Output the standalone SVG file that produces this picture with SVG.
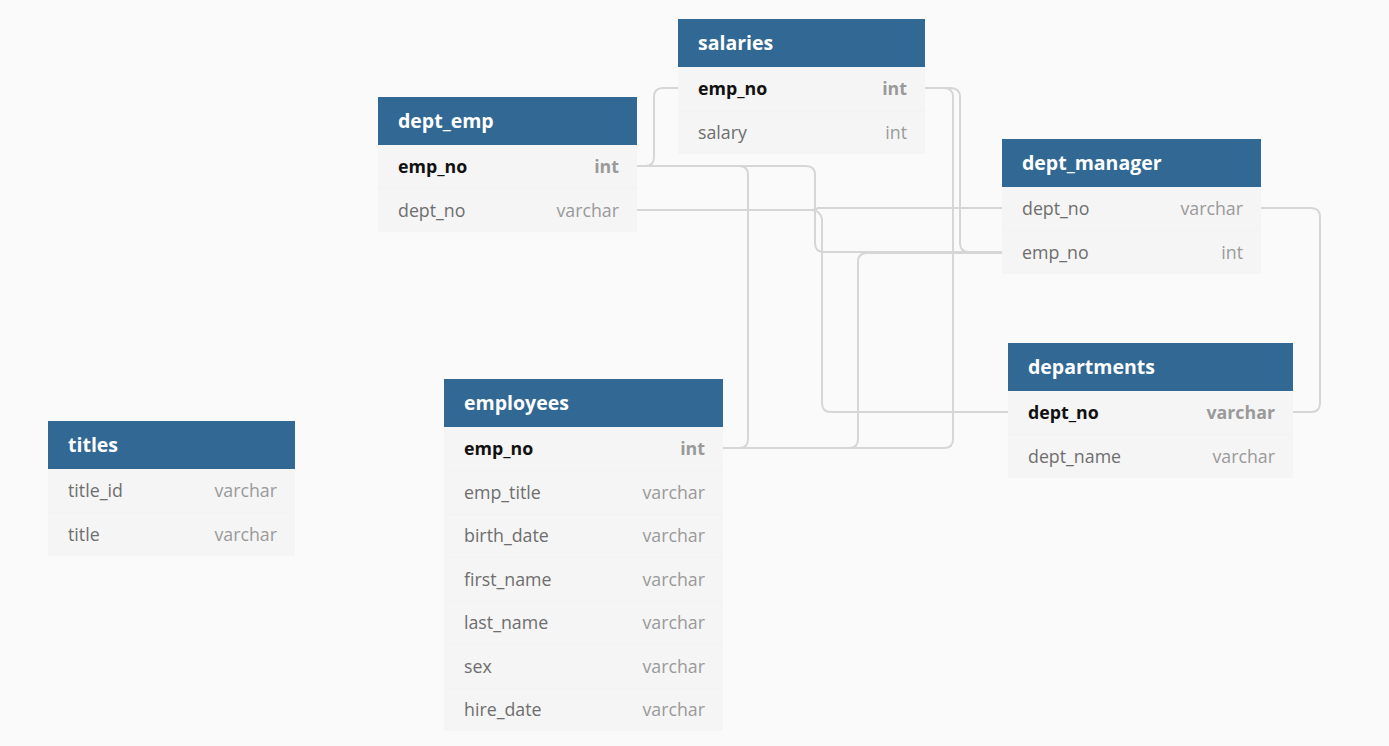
<svg xmlns="http://www.w3.org/2000/svg" width="1389" height="746" viewBox="0 0 1389 746">
<style>
.bg{fill:#fafafa}
.hd{fill:#316894}
.row{fill:#f5f5f5}
.sep{stroke:#f2f2f2;stroke-width:1}
.ttl{font-family:"Open Sans","Liberation Sans",sans-serif;font-size:19.5px;font-weight:bold;fill:#ffffff}
.fn{font-family:"Open Sans","Liberation Sans",sans-serif;font-size:17.8px;fill:#6e6e6e}
.fk{font-family:"Open Sans","Liberation Sans",sans-serif;font-size:17.8px;font-weight:bold;fill:#111111}
.ty{font-family:"Open Sans","Liberation Sans",sans-serif;font-size:17.8px;fill:#9a9a9a;text-anchor:end}
.tk{font-family:"Open Sans","Liberation Sans",sans-serif;font-size:17.8px;font-weight:bold;fill:#9a9a9a;text-anchor:end}
.c{fill:none;stroke:#d6d6d6;stroke-width:2}
</style>
<rect class="bg" x="0" y="0" width="1389" height="746"/>
<g id="connectors">
<path class="c" d="M637,166 H645 Q654,166 654,157 V97 Q654,88 663,88 H678"/>
<path class="c" d="M637,166 H739 Q748,166 748,175 V439 Q748,448 739,448 H723"/>
<path class="c" d="M637,166 H806 Q815,166 815,175 V243 Q815,252 824,252 H1002"/>
<path class="c" d="M637,210 H811 Q820,210 822,219 V403 Q822,412 831,412 H1008"/>
<path class="c" d="M637,210 H812 Q816,210 818,208 H1002"/>
<path class="c" d="M1261,208 H1311 Q1320,208 1320,217 V403 Q1320,412 1311,412 H1293"/>
<path class="c" d="M925,88 H950 Q960,88 960,97 V243 Q960,252 969,252 H1002"/>
<path class="c" d="M925,88 H944 Q953,88 953,97 V439 Q953,448 944,448 H723"/>
<path class="c" d="M723,448 H849 Q858,448 858,439 V262 Q858,253 867,253 H1002"/>
</g>
<g id="salaries">
<rect class="row" x="678" y="67" width="247" height="87"/>
<line class="sep" x1="678" y1="111" x2="925" y2="111"/>
<rect class="hd" x="678" y="19" width="247" height="48"/>
<text class="ttl" x="698" y="50">salaries</text>
<text class="fk" x="698" y="95">emp_no</text><text class="tk" x="907" y="95">int</text>
<text class="fn" x="698" y="139">salary</text><text class="ty" x="907" y="139">int</text>
</g>
<g id="dept_emp">
<rect class="row" x="378" y="145" width="259" height="87"/>
<line class="sep" x1="378" y1="188" x2="637" y2="188"/>
<rect class="hd" x="378" y="97" width="259" height="48"/>
<text class="ttl" x="398" y="128">dept_emp</text>
<text class="fk" x="398" y="173">emp_no</text><text class="tk" x="619" y="173">int</text>
<text class="fn" x="398" y="217">dept_no</text><text class="ty" x="619" y="217">varchar</text>
</g>
<g id="dept_manager">
<rect class="row" x="1002" y="187" width="259" height="87"/>
<line class="sep" x1="1002" y1="230" x2="1261" y2="230"/>
<rect class="hd" x="1002" y="139" width="259" height="48"/>
<text class="ttl" x="1022" y="170">dept_manager</text>
<text class="fn" x="1022" y="215">dept_no</text><text class="ty" x="1243" y="215">varchar</text>
<text class="fn" x="1022" y="259">emp_no</text><text class="ty" x="1243" y="259">int</text>
</g>
<g id="departments">
<rect class="row" x="1008" y="391" width="285" height="87"/>
<line class="sep" x1="1008" y1="434" x2="1293" y2="434"/>
<rect class="hd" x="1008" y="343" width="285" height="48"/>
<text class="ttl" x="1028" y="374">departments</text>
<text class="fk" x="1028" y="419">dept_no</text><text class="tk" x="1275" y="419">varchar</text>
<text class="fn" x="1028" y="463">dept_name</text><text class="ty" x="1275" y="463">varchar</text>
</g>
<g id="employees">
<rect class="row" x="444" y="427" width="279" height="304"/>
<line class="sep" x1="444" y1="470" x2="723" y2="470"/>
<line class="sep" x1="444" y1="514" x2="723" y2="514"/>
<line class="sep" x1="444" y1="557" x2="723" y2="557"/>
<line class="sep" x1="444" y1="601" x2="723" y2="601"/>
<line class="sep" x1="444" y1="644" x2="723" y2="644"/>
<line class="sep" x1="444" y1="688" x2="723" y2="688"/>
<rect class="hd" x="444" y="379" width="279" height="48"/>
<text class="ttl" x="464" y="410">employees</text>
<text class="fk" x="464" y="455">emp_no</text><text class="tk" x="705" y="455">int</text>
<text class="fn" x="464" y="499">emp_title</text><text class="ty" x="705" y="499">varchar</text>
<text class="fn" x="464" y="542">birth_date</text><text class="ty" x="705" y="542">varchar</text>
<text class="fn" x="464" y="586">first_name</text><text class="ty" x="705" y="586">varchar</text>
<text class="fn" x="464" y="629">last_name</text><text class="ty" x="705" y="629">varchar</text>
<text class="fn" x="464" y="673">sex</text><text class="ty" x="705" y="673">varchar</text>
<text class="fn" x="464" y="716">hire_date</text><text class="ty" x="705" y="716">varchar</text>
</g>
<g id="titles">
<rect class="row" x="48" y="469" width="247" height="87"/>
<line class="sep" x1="48" y1="512" x2="295" y2="512"/>
<rect class="hd" x="48" y="421" width="247" height="48"/>
<text class="ttl" x="68" y="452">titles</text>
<text class="fn" x="68" y="497">title_id</text><text class="ty" x="277" y="497">varchar</text>
<text class="fn" x="68" y="541">title</text><text class="ty" x="277" y="541">varchar</text>
</g>
</svg>
